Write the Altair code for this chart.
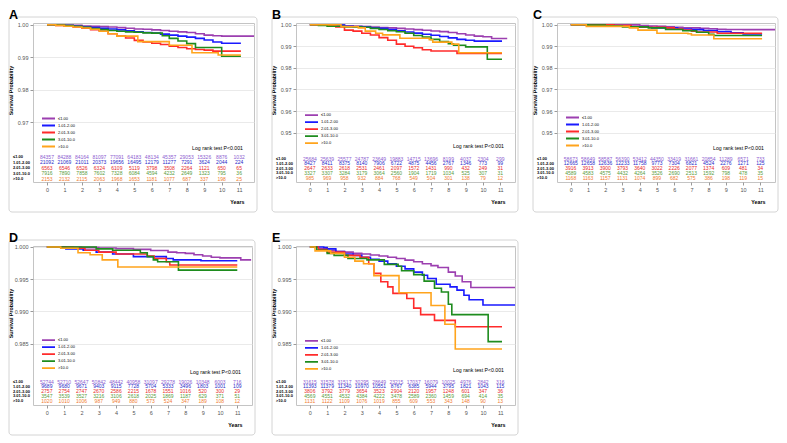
import altair as alt
import pandas as pd

FONT = "Liberation Sans"
GROUPS = ["≤1.00", "1.01-2.00", "2.01-3.00", "3.01-10.0", ">10.0"]
YEARS = list(range(12))
LINE_COLORS = ["#9c3fb0", "#1a1aff", "#ff2b2b", "#1e8c1e", "#ffa41c"]
TEXT_COLORS = ["#8c5cd0", "#2a2ac8", "#e82a2a", "#5a9c3c", "#f07c30"]

# ---------------- Panel A ----------------
A1_T = [0, 0.5, 1, 1.5, 2, 2.5, 3, 3.5, 4, 4.5, 5, 5.5, 6, 6.5, 7, 7.5, 8, 8.5, 9, 9.5, 10, 11.85]
A1_S = [1.0, 0.99995, 0.9999, 0.9998, 0.9996, 0.9995, 0.9994, 0.9993, 0.9991, 0.9989, 0.9987, 0.9986, 0.9984, 0.9982, 0.998, 0.9978, 0.9976, 0.9972, 0.9968, 0.9966, 0.9965, 0.9965]
A2_T = [0, 0.5, 1, 1.5, 2, 2.5, 3, 3.5, 4, 4.5, 5, 5.5, 6, 6.5, 7, 7.5, 8, 8.5, 9, 9.5, 10, 11.1]
A2_S = [1.0, 0.9999, 0.9997, 0.9995, 0.9993, 0.9991, 0.9989, 0.9987, 0.9984, 0.9981, 0.9978, 0.9976, 0.9974, 0.9971, 0.9968, 0.9965, 0.9962, 0.9958, 0.9953, 0.9947, 0.9943, 0.9943]
A3_T = [0, 0.5, 1, 1.5, 2, 2.5, 3, 3.5, 4, 4.5, 5, 5.5, 6, 6.5, 7, 7.5, 8, 8.5, 9, 9.5, 11.1]
A3_S = [1.0, 0.9998, 0.9996, 0.9993, 0.9989, 0.9985, 0.998, 0.9972, 0.9965, 0.9959, 0.9952, 0.9947, 0.9943, 0.9939, 0.9934, 0.993, 0.9926, 0.9924, 0.9922, 0.9919, 0.9919]
A4_T = [0, 0.5, 1, 1.5, 2, 2.5, 3, 3.5, 4, 4.5, 5, 5.5, 6, 6.6, 7, 7.5, 8, 8.5, 10.0, 11.1]
A4_S = [1.0, 0.9999, 0.9997, 0.9995, 0.9992, 0.9988, 0.9985, 0.9982, 0.998, 0.9978, 0.9977, 0.9975, 0.9974, 0.9966, 0.9958, 0.995, 0.9942, 0.993, 0.9903, 0.9903]
A5_T = [0, 0.5, 1, 1.5, 2, 2.5, 3, 3.5, 4, 5.2, 7.0, 8.3, 9.8, 11.1]
A5_S = [1.0, 0.9998, 0.9995, 0.9993, 0.999, 0.9986, 0.998, 0.9972, 0.9965, 0.9948, 0.9937, 0.9914, 0.9907, 0.9907]
A_N1 = [84357, 84288, 84164, 81097, 77091, 64183, 48134, 45357, 29053, 15326, 8876, 1032]
A_N2 = [21092, 21069, 21011, 20373, 19656, 16495, 12179, 11277, 7291, 3624, 2044, 224]
A_N3 = [6563, 6546, 6526, 6324, 6109, 5119, 3798, 3508, 2264, 1121, 650, 65]
A_N4 = [7916, 7890, 7858, 7602, 7328, 6084, 4594, 4232, 2649, 1323, 795, 36]
A_N5 = [2153, 2132, 2115, 2063, 1968, 1653, 1181, 1077, 687, 337, 198, 25]

# ---------------- Panel B ----------------
B1_T = [0, 1, 2, 2.5, 3, 3.5, 4, 4.5, 5, 5.5, 6, 6.5, 7, 7.5, 8, 8.5, 9, 9.5, 10, 10.5, 11.4]
B1_S = [1.0, 0.9998, 0.9995, 0.9993, 0.9991, 0.9989, 0.9987, 0.9985, 0.9983, 0.998, 0.9977, 0.9974, 0.9971, 0.9968, 0.9964, 0.9958, 0.9952, 0.9947, 0.9944, 0.9936, 0.9936]
B2_T = [0, 1, 2, 2.5, 3, 3.5, 4, 4.5, 5, 5.5, 6, 6.5, 7, 7.5, 8, 8.5, 9, 9.5, 11.1]
B2_S = [1.0, 0.9998, 0.9994, 0.9991, 0.9989, 0.9986, 0.9983, 0.9978, 0.9972, 0.9966, 0.9961, 0.9956, 0.9951, 0.9945, 0.9939, 0.9932, 0.9928, 0.9924, 0.9924]
B3_T = [0, 1, 1.5, 2, 2.5, 3, 3.5, 4, 4.5, 5, 5.5, 6, 6.5, 7, 8.5, 11.1]
B3_S = [1.0, 0.9997, 0.999, 0.9975, 0.997, 0.996, 0.9952, 0.994, 0.9928, 0.991, 0.99, 0.9893, 0.9884, 0.9878, 0.9867, 0.9867]
B4_T = [0, 0.5, 1, 2, 3, 3.5, 4, 4.5, 5, 5.5, 6, 6.5, 7, 7.5, 8, 8.3, 9, 10.25, 11.1]
B4_S = [1.0, 0.9996, 0.9993, 0.999, 0.9988, 0.9983, 0.9978, 0.9972, 0.9967, 0.996, 0.995, 0.9943, 0.9932, 0.9922, 0.9912, 0.9905, 0.9897, 0.984, 0.984]
B5_T = [0, 1.8, 2.8, 3.2, 3.8, 4.2, 5.2, 6.9, 7.1, 8.2, 8.6, 11.1]
B5_S = [1.0, 0.9991, 0.9985, 0.997, 0.996, 0.9953, 0.9937, 0.993, 0.9919, 0.991, 0.987, 0.987]
B_N1 = [25684, 25639, 25577, 24787, 23649, 19883, 14715, 13696, 8199, 4037, 2304, 299]
B_N2 = [8427, 8411, 8375, 8140, 7906, 6722, 4875, 4456, 2767, 1346, 773, 99]
B_N3 = [2647, 2633, 2618, 2531, 2461, 2097, 1572, 1431, 990, 432, 249, 31]
B_N4 = [3327, 3307, 3284, 3179, 3064, 2560, 1904, 1719, 1034, 525, 307, 31]
B_N5 = [985, 969, 958, 932, 884, 768, 549, 504, 301, 138, 79, 12]

# ---------------- Panel C ----------------
C1_T = [0, 3, 4, 4.5, 5, 5.5, 6, 6.5, 7, 7.5, 8, 8.5, 9, 10, 11.85]
C1_S = [1.0, 0.9999, 0.9996, 0.9994, 0.9992, 0.999, 0.9988, 0.9986, 0.9985, 0.9983, 0.9981, 0.9979, 0.9978, 0.9977, 0.9977]
C2_T = [0, 1, 2.5, 3.5, 4.7, 6.2, 7, 7.7, 8.5, 9.3, 10.0, 11.1]
C2_S = [1.0, 0.9999, 0.9994, 0.9988, 0.9985, 0.998, 0.9977, 0.9973, 0.9968, 0.9962, 0.9957, 0.9957]
C3_T = [0, 2.5, 3.5, 4.5, 5.5, 6, 6.5, 7, 7.3, 8.5, 11.1]
C3_S = [1.0, 0.9996, 0.999, 0.9988, 0.9985, 0.998, 0.9975, 0.997, 0.9966, 0.996, 0.996]
C4_T = [0, 1, 2, 3, 4.5, 5.5, 6.5, 7.3, 8.0, 8.3, 11.1]
C4_S = [1.0, 0.9998, 0.9995, 0.999, 0.9985, 0.9978, 0.9972, 0.9965, 0.9955, 0.995, 0.995]
C5_T = [0, 0.9, 3.4, 3.9, 5.0, 6.8, 7.0, 8.3, 11.1]
C5_S = [1.0, 0.9992, 0.9985, 0.9975, 0.996, 0.9958, 0.9952, 0.9935, 0.9935]
C_N1 = [58673, 58649, 58587, 56390, 53412, 44350, 33419, 31661, 20854, 11289, 6571, 733]
C_N2 = [12665, 12658, 12636, 12233, 11758, 9773, 7304, 6821, 4524, 2276, 1271, 125]
C_N3 = [3916, 3913, 3900, 3793, 3640, 3022, 2226, 2077, 1374, 609, 481, 34]
C_N4 = [4589, 4583, 4575, 4432, 4264, 3526, 2690, 2513, 1592, 798, 478, 35]
C_N5 = [1168, 1163, 1157, 1131, 1074, 899, 682, 575, 386, 198, 119, 15]

# ---------------- Panel D ----------------
D1_T = [0, 1, 2, 3, 4, 5, 6, 7, 7.5, 8, 8.5, 9, 9.5, 10, 11.2, 11.8]
D1_S = [1.0, 0.99998, 0.9999, 0.99985, 0.99975, 0.99963, 0.99945, 0.9992, 0.9991, 0.999, 0.9988, 0.9986, 0.9984, 0.9983, 0.998, 0.998]
D2_T = [0, 1.1, 2.1, 2.85, 3.8, 5.0, 6.9, 7.3, 8.9, 11.0]
D2_S = [1.0, 0.9997, 0.9995, 0.9992, 0.9989, 0.9985, 0.9982, 0.998, 0.99785, 0.99785]
D3_T = [0, 1.5, 2.2, 3.0, 4.0, 5.8, 6.2, 6.9, 7.1, 11.0]
D3_S = [1.0, 0.9998, 0.9995, 0.9992, 0.9989, 0.9986, 0.9982, 0.9977, 0.9972, 0.9972]
D4_T = [0, 2.85, 3.8, 5.4, 5.8, 6.15, 6.4, 7.6, 11.0]
D4_S = [1.0, 0.9997, 0.9995, 0.9991, 0.9985, 0.998, 0.9977, 0.9964, 0.9964]
D5_T = [0, 0.8, 1.8, 2.5, 3.2, 4.1, 11.0]
D5_S = [1.0, 0.9998, 0.9991, 0.9988, 0.998, 0.9969, 0.9969]
D_N1 = [52744, 52710, 52647, 50842, 48442, 40958, 31097, 29278, 19026, 10348, 6003, 716]
D_N2 = [9689, 9680, 9671, 9403, 9115, 7728, 5704, 5333, 3496, 1803, 1001, 109]
D_N3 = [2757, 2754, 2747, 2670, 2586, 2215, 1678, 1551, 1016, 520, 300, 29]
D_N4 = [3547, 3539, 3527, 3216, 3106, 2618, 2025, 1869, 1187, 629, 371, 51]
D_N5 = [1020, 1010, 1006, 987, 949, 880, 573, 524, 347, 189, 108, 12]

# ---------------- Panel E ----------------
E1_T = [0, 0.5, 1, 1.5, 2, 2.5, 3, 3.5, 4, 4.5, 5, 5.5, 6, 6.5, 7, 7.4, 8, 8.4, 8.8, 9.3, 11.85]
E1_S = [1.0, 0.9997, 0.9995, 0.9993, 0.9992, 0.999, 0.9989, 0.99875, 0.9986, 0.9984, 0.9982, 0.99795, 0.9977, 0.9974, 0.9971, 0.9968, 0.9961, 0.9955, 0.9946, 0.9937, 0.9937]
E2_T = [0, 0.8, 1, 1.5, 2, 2.5, 3, 3.5, 4, 4.5, 5, 5.5, 6, 6.5, 6.8, 7.3, 8.1, 8.5, 8.9, 9.2, 10.0, 11.85]
E2_S = [1.0, 0.9999, 0.9997, 0.9993, 0.9989, 0.9987, 0.9984, 0.9981, 0.9978, 0.9974, 0.997, 0.9966, 0.9961, 0.9956, 0.9951, 0.9942, 0.9938, 0.9933, 0.9925, 0.9918, 0.991, 0.991]
E3_T = [0, 0.5, 1, 2, 2.9, 3.4, 3.7, 4.1, 4.5, 4.8, 5.6, 6.0, 6.4, 7.2, 8.4, 11.1]
E3_S = [1.0, 0.9996, 0.9992, 0.9987, 0.9984, 0.9974, 0.9959, 0.9946, 0.9938, 0.9928, 0.992, 0.9905, 0.9895, 0.9886, 0.9876, 0.9876]
E4_T = [0, 0.4, 1, 1.4, 2.2, 3.3, 4.3, 5.1, 5.3, 6.0, 6.6, 7.2, 7.6, 8.0, 8.2, 10.3, 11.1]
E4_S = [1.0, 0.9995, 0.999, 0.9987, 0.9982, 0.998, 0.9973, 0.997, 0.9963, 0.9957, 0.9947, 0.9936, 0.993, 0.9911, 0.9895, 0.9853, 0.9853]
E5_T = [0, 0.3, 1.2, 2.0, 2.6, 3.1, 3.7, 5.15, 7.0, 7.8, 8.4, 11.1]
E5_S = [1.0, 0.9994, 0.999, 0.9984, 0.9978, 0.9974, 0.99555, 0.9929, 0.9909, 0.988, 0.98415, 0.98415]
E_N1 = [31615, 31578, 31517, 30295, 28649, 23215, 17037, 16079, 10025, 4976, 2842, 316]
E_N2 = [11393, 11379, 11340, 10970, 10551, 8767, 6385, 5944, 3795, 1821, 1043, 115]
E_N3 = [3806, 3792, 3779, 3654, 3523, 2904, 2120, 1957, 1248, 601, 347, 36]
E_N4 = [4569, 4551, 4532, 4384, 4222, 3478, 2589, 2360, 1459, 694, 414, 35]
E_N5 = [1131, 1122, 1109, 1076, 1019, 855, 609, 553, 343, 148, 90, 13]

ONE = pd.DataFrame({"k": [0]})


def make_panel(letter, curves, risks, ydom, yticks, yfmt, w, h, rows, leg_c, leg_step, lr_y):
    km = pd.concat(
        [pd.DataFrame({"t": t, "s": s, "g": g}) for g, (t, s) in zip(GROUPS, curves)],
        ignore_index=True,
    )
    rk = pd.DataFrame(
        [{"t": yr, "n": n, "g": g} for g, row in zip(GROUPS, risks) for yr, n in zip(YEARS, row)]
    )
    x_enc = alt.X(
        "t:Q",
        scale=alt.Scale(domain=[-0.8, 11.85], nice=False, zero=False),
        axis=alt.Axis(
            values=YEARS, format="d", grid=False, domain=False, tickSize=3,
            tickColor="#9a9a9a", labelFontSize=5.5, labelColor="#555555", labelPadding=2,
            labelFont=FONT, labelOverlap=False, labelFlush=False,
            title="Years", titleFont=FONT, titleFontSize=5.3, titleFontWeight="bold",
            titleColor="black", titleAlign="right", titleX=w - 10, titleY=19,
            titleBaseline="middle",
        ),
    )
    card = alt.Chart(ONE).mark_rect(
        fill="#ffffff", fillOpacity=0, stroke="#d4d4d4", strokeWidth=1, cornerRadius=3
    ).encode(x=alt.value(-24), x2=alt.value(w + 3), y=alt.value(-6), y2=alt.value(h + 30))
    lines = alt.Chart(km).mark_line(interpolate="step-after", strokeWidth=1.6).encode(
        x=x_enc,
        y=alt.Y(
            "s:Q",
            scale=alt.Scale(domain=ydom, nice=False, zero=False),
            axis=alt.Axis(
                values=yticks, format=yfmt, grid=True, gridColor="#e4e4e4", gridWidth=0.8,
                domain=False, tickSize=3, tickColor="#9a9a9a", labelFontSize=5.5,
                labelColor="#555555", labelPadding=2, labelFont=FONT,
                title="Survival Probability", titleFont=FONT, titleFontSize=5.3,
                titleFontWeight="bold", titleColor="black", titleX=-19.5, titleY=67,
                titleAngle=270, titleBaseline="bottom", titleAlign="center",
            ),
        ),
        color=alt.Color(
            "g:N",
            scale=alt.Scale(domain=GROUPS, range=LINE_COLORS),
            legend=alt.Legend(
                title=None, orient="none", legendX=8, legendY=leg_c - leg_step / 2,
                symbolType="stroke", symbolSize=169, symbolStrokeWidth=1.8,
                labelFontSize=4, labelFont=FONT, labelColor="black", clipHeight=leg_step,
                rowPadding=0, padding=0, labelOffset=2,
            ),
        ),
    )
    table = alt.Chart(rk).mark_text(fontSize=5, font=FONT).encode(
        x=x_enc,
        y=alt.Y(
            "g:N",
            scale=alt.Scale(type="point", domain=GROUPS, range=rows, padding=0),
            axis=alt.Axis(
                orient="left", title=None, ticks=False, tickSize=0, domain=False, grid=False,
                labelAlign="left", labelPadding=20.5, labelFontSize=4, labelFontWeight="bold",
                labelColor="black", labelFont=FONT, labelOverlap=False, labelBaseline="middle",
            ),
        ),
        text=alt.Text("n:Q", format="d"),
        color=alt.Color("g:N", scale=alt.Scale(domain=GROUPS, range=TEXT_COLORS), legend=None),
    )
    logrank = alt.Chart(ONE).mark_text(
        align="right", baseline="middle", fontSize=5.2, font=FONT, color="black"
    ).encode(x=alt.value(w - 11), y=alt.value(lr_y), text=alt.value("Log rank test P<0.001"))
    lab = alt.Chart(ONE).mark_text(
        align="left", baseline="top", fontSize=12.5, font=FONT, fontWeight="bold", color="black"
    ).encode(x=alt.value(-24), y=alt.value(-14), text=alt.value(letter))
    return (
        alt.layer(card, lines, table, logrank, lab)
        .resolve_scale(y="independent", color="independent")
        .properties(width=w, height=h)
    )


H = 159
pA = make_panel("A", [(A1_T, A1_S), (A2_T, A2_S), (A3_T, A3_S), (A4_T, A4_S), (A5_T, A5_S)],
                [A_N1, A_N2, A_N3, A_N4, A_N5], [0.95173, 1.00052], [0.97, 0.98, 0.99, 1.0], ".2f",
                221, H, [133.5, 155.5], 95.5, 6.5, 125)
pB = make_panel("B", [(B1_T, B1_S), (B2_T, B2_S), (B3_T, B3_S), (B4_T, B4_S), (B5_T, B5_S)],
                [B_N1, B_N2, B_N3, B_N4, B_N5], [0.92713, 1.00078],
                [0.95, 0.96, 0.97, 0.98, 0.99, 1.0], ".2f", 219, H, [135.5, 154.5], 92.1, 6.1, 123.4)
pC = make_panel("C", [(C1_T, C1_S), (C2_T, C2_S), (C3_T, C3_S), (C4_T, C4_S), (C5_T, C5_S)],
                [C_N1, C_N2, C_N3, C_N4, C_N5], [0.92713, 1.00078],
                [0.95, 0.96, 0.97, 0.98, 0.99, 1.0], ".2f", 218, H, [135.5, 154.5], 94.5, 6.2, 125)
pD = make_panel("D", [(D1_T, D1_S), (D2_T, D2_S), (D3_T, D3_S), (D4_T, D4_S), (D5_T, D5_S)],
                [D_N1, D_N2, D_N3, D_N4, D_N5], [0.97546, 1.00015],
                [0.985, 0.99, 0.995, 1.0], ".3f", 219, H, [135.5, 154.5], 94.1, 6.3, 126)
pE = make_panel("E", [(E1_T, E1_S), (E2_T, E2_S), (E3_T, E3_S), (E4_T, E4_S), (E5_T, E5_S)],
                [E_N1, E_N2, E_N3, E_N4, E_N5], [0.97546, 1.00015],
                [0.985, 0.99, 0.995, 1.0], ".3f", 219, H, [135.5, 154.5], 94.8, 6.1, 124.4)

chart = (
    alt.concat(pA, pB, pC, pD, pE, columns=3, spacing={"row": 64, "column": 42}, bounds="flush")
    .resolve_scale(color="independent")
    .properties(padding=0, background="white")
    .configure_view(stroke="#c4c4c4", strokeWidth=1)
)

chart.save("out.html", embed_options={"renderer": "svg", "actions": False})
